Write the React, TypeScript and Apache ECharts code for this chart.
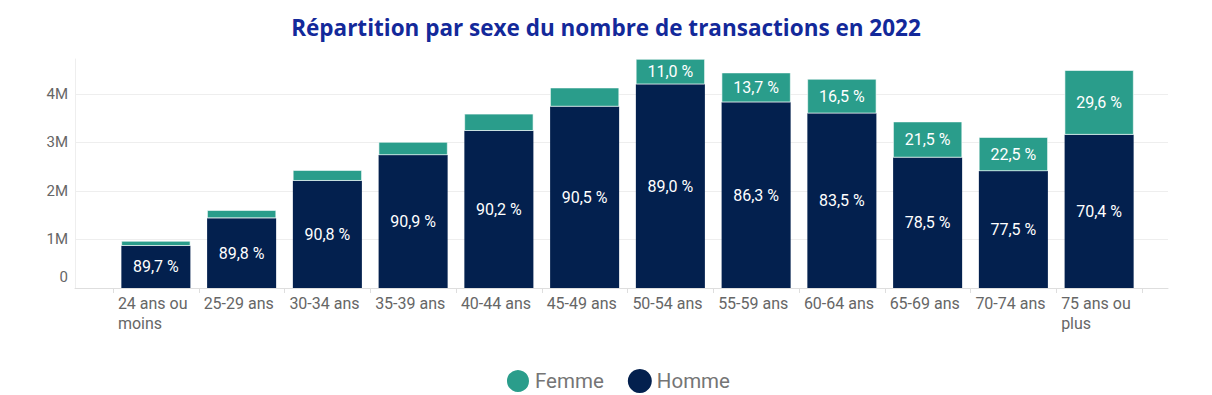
import React, { useEffect, useRef } from "react";
import * as echarts from "echarts";

const categories = [
  "24 ans ou\nmoins",
  "25-29 ans",
  "30-34 ans",
  "35-39 ans",
  "40-44 ans",
  "45-49 ans",
  "50-54 ans",
  "55-59 ans",
  "60-64 ans",
  "65-69 ans",
  "70-74 ans",
  "75 ans ou\nplus",
];

const hommeValues = [0.87e6, 1.44e6, 2.21e6, 2.74e6, 3.24e6, 3.74e6, 4.2e6, 3.83e6, 3.6e6, 2.69e6, 2.41e6, 3.16e6];
const femmeValues = [0.1e6, 0.165e6, 0.22e6, 0.27e6, 0.35e6, 0.39e6, 0.52e6, 0.61e6, 0.71e6, 0.74e6, 0.7e6, 1.33e6];

const hommePct = ["89,7 %", "89,8 %", "90,8 %", "90,9 %", "90,2 %", "90,5 %", "89,0 %", "86,3 %", "83,5 %", "78,5 %", "77,5 %", "70,4 %"];
const femmePct = [null, null, null, null, null, null, "11,0 %", "13,7 %", "16,5 %", "21,5 %", "22,5 %", "29,6 %"];

const yTicks = [0, 1e6, 2e6, 3e6, 4e6];
const yTickLabels = ["0", "1M", "2M", "3M", "4M"];

const TEAL = "#2a9d8b";
const NAVY = "#03204e";
const FONT = "Roboto, sans-serif";

export default function App() {
  const ref = useRef<HTMLDivElement>(null);

  useEffect(() => {
    if (!ref.current) return;
    const chart = echarts.init(ref.current, null, { renderer: "svg" });
    const yMax = 4.72e6;

    chart.setOption({
      animation: false,
      backgroundColor: "#ffffff",
      title: {
        text: "Répartition par sexe du nombre de transactions en 2022",
        left: "center",
        top: 11,
        textStyle: {
          fontFamily: "'Open Sans', sans-serif",
          fontWeight: "bold",
          fontSize: 22.5,
          color: "#13299a",
        },
      },
      legend: {
        data: ["Femme", "Homme"],
        left: 500,
        top: 363,
        icon: "circle",
        itemWidth: 24,
        itemHeight: 24,
        itemGap: 24,
        textStyle: { fontFamily: FONT, fontSize: 20.5, color: "#757575", padding: [0, 0, 0, 0] },
      },
      grid: [
        { left: 75, right: 44, top: 59, bottom: 107 },
        { left: 113, right: 70, top: 59, bottom: 107 },
      ],
      xAxis: [
        {
          type: "value",
          gridIndex: 0,
          min: 0,
          max: 1,
          axisLine: { show: true, lineStyle: { color: "#dedede", width: 1 } },
          axisTick: { show: false },
          axisLabel: { show: false },
          splitLine: { show: false },
        },
        {
          type: "category",
          gridIndex: 1,
          data: categories,
          axisLine: { show: false },
          axisTick: { show: true, length: 5, lineStyle: { color: "#dedede" } },
          axisLabel: {
            interval: 0,
            margin: 5,
            formatter: (v: string) =>
              v
                .split("\n")
                .map((s) => `{a|${s}}`)
                .join("\n"),
            rich: {
              a: {
                width: 76,
                align: "left",
                fontFamily: FONT,
                fontSize: 16,
                lineHeight: 20,
                color: "#666666",
              },
            },
          },
        },
      ],
      yAxis: [
        {
          type: "value",
          gridIndex: 0,
          min: 0,
          max: yMax,
          interval: 1e6,
          axisLine: { show: true, lineStyle: { color: "#eeeeee" } },
          axisTick: { show: false },
          splitLine: { show: true, showMaxLine: false, lineStyle: { color: "#eeeeee" } },
          axisLabel: {
            showMaxLabel: false,
            margin: 7,
            formatter: (v: number) => {
              const i = yTicks.indexOf(v);
              if (i < 0) return "";
              return i === 0 ? `{z|${yTickLabels[i]}}` : yTickLabels[i];
            },
            fontFamily: FONT,
            fontSize: 15,
            color: "#666666",
            rich: {
              z: { fontFamily: FONT, fontSize: 15, color: "#666666", padding: [0, 0, 22, 0] },
            },
          },
        },
        {
          type: "value",
          gridIndex: 1,
          min: 0,
          max: yMax,
          show: false,
          splitLine: { show: false },
        },
      ],
      series: [
        {
          name: "Homme",
          type: "bar",
          stack: "total",
          xAxisIndex: 1,
          yAxisIndex: 1,
          barCategoryGap: "19.5%",
          data: hommeValues,
          itemStyle: { color: NAVY },
          label: {
            show: true,
            position: "inside",
            formatter: (p: any) => hommePct[p.dataIndex] ?? "",
            fontFamily: FONT,
            fontSize: 16,
            color: "#ffffff",
          },
        },
        {
          name: "Femme",
          type: "bar",
          stack: "total",
          xAxisIndex: 1,
          yAxisIndex: 1,
          barCategoryGap: "19.5%",
          data: femmeValues,
          itemStyle: { color: TEAL, borderColor: "#ffffff", borderWidth: 0.6 },
          label: {
            show: true,
            position: "inside",
            formatter: (p: any) => femmePct[p.dataIndex] ?? "",
            fontFamily: FONT,
            fontSize: 16,
            color: "#ffffff",
          },
        },
      ],
    });

    return () => chart.dispose();
  }, []);

  return (
    <div
      ref={ref}
      style={{ position: "fixed", left: 0, top: 0, width: 1212, height: 395, background: "#fff" }}
    />
  );
}
